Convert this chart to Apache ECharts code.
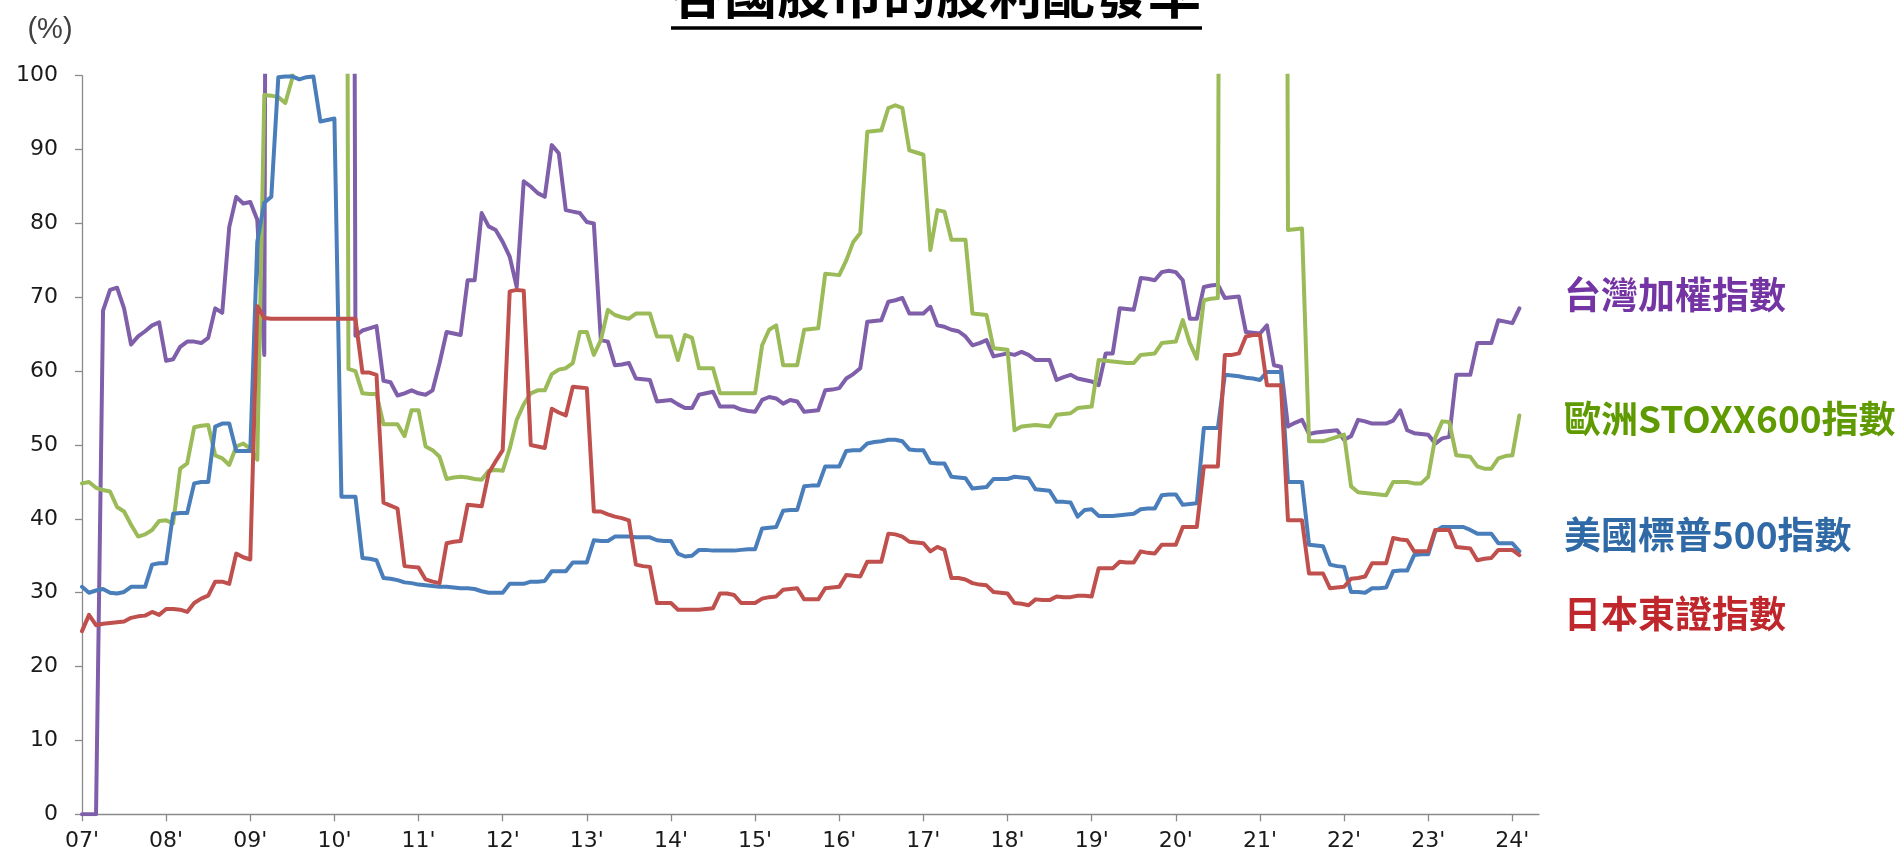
<!DOCTYPE html>
<html>
<head>
<meta charset="utf-8">
<title>各國股市的股利配發率</title>
<script src="https://cdn.jsdelivr.net/npm/echarts@6/dist/echarts.min.js"></script>
<style>
  html, body { margin: 0; padding: 0; background: #ffffff; }
  #chart { width: 1904px; height: 857px; }
</style>
</head>
<body>
<div id="chart"></div>
<script>
// Year tick labels (one tick every 12 months, starting Jan 2007)
const yearLabels = ["07'", "08'", "09'", "10'", "11'", "12'", "13'", "14'", "15'",
                    "16'", "17'", "18'", "19'", "20'", "21'", "22'", "23'", "24'"];

const seriesNames = ['台灣加權指數', '歐洲STOXX600指數', '美國標普500指數', '日本東證指數'];
const lineColors  = ['#7F5FAA', '#9BBB59', '#4A7EBB', '#C0504D'];
const labelColors = ['#7434A4', '#5F9A00', '#2F69A6', '#C0272D'];

// Monthly dividend payout ratios (%), Jan 2007 onward, one row per year.
// Values above 100 run off the top of the plot.
const twn = [
  0, 0, 0, 68.2, 71.0, 71.3, 68.5, 63.6, 64.7, 65.4, 66.2, 66.6,
  61.4, 61.6, 63.3, 64.0, 64.0, 63.8, 64.5, 68.5, 67.9, 79.5, 83.6, 82.7,
  82.9, 80.5, 62.2, 400, 400, 400, 400, 400, 400, 400, 400, 400,
  400, 400, 400, 64.8, 65.5, 65.8, 66.1, 58.7, 58.5, 56.7, 57.0, 57.4,
  57.0, 56.8, 57.4, 61.1, 65.3, 65.1, 64.9, 72.3, 72.3, 81.4, 79.6, 79.1,
  77.5, 75.5, 71.4, 85.7, 85.0, 84.1, 83.6, 90.6, 89.5, 81.8, 81.6, 81.4,
  80.2, 80.0, 64.2, 64.0, 60.8, 60.9, 61.1, 59.0, 58.9, 58.8, 55.9, 56.0,
  56.1, 55.5, 55.0, 55.0, 56.8, 57.0, 57.2, 55.2, 55.2, 55.2, 54.8, 54.6,
  54.5, 56.1, 56.5, 56.3, 55.6, 56.1, 55.9, 54.5, 54.6, 54.7, 57.4, 57.5,
  57.7, 59.0, 59.6, 60.4, 66.7, 66.8, 66.9, 69.4, 69.6, 69.9, 67.8, 67.8,
  67.8, 68.7, 66.2, 66.0, 65.6, 65.4, 64.7, 63.5, 63.8, 64.2, 62.0, 62.2,
  62.4, 62.2, 62.6, 62.2, 61.5, 61.5, 61.5, 58.8, 59.2, 59.5, 59.0, 58.8,
  58.6, 58.1, 62.4, 62.4, 68.5, 68.4, 68.3, 72.6, 72.5, 72.3, 73.4, 73.6,
  73.4, 72.3, 67.1, 67.1, 71.4, 71.6, 71.7, 69.9, 70.0, 70.1, 65.3, 65.2,
  65.1, 66.2, 60.8, 60.6, 52.5, 53.0, 53.4, 51.5, 51.7, 51.8, 51.9, 52.0,
  50.7, 51.2, 53.4, 53.2, 52.9, 52.9, 52.9, 53.3, 54.7, 52.0, 51.6, 51.5,
  51.4, 50.2, 50.9, 51.1, 59.5, 59.5, 59.5, 63.8, 63.8, 63.8, 66.9, 66.7,
  66.5, 68.5
];

const eur = [
  44.8, 45.0, 44.2, 43.9, 43.7, 41.6, 41.0, 39.2, 37.6, 37.9, 38.5, 39.7,
  39.8, 39.4, 46.8, 47.5, 52.4, 52.6, 52.7, 48.6, 48.2, 47.3, 49.8, 50.2,
  49.5, 48.0, 97.4, 97.3, 97.1, 96.3, 99.7, 400, 400, 400, 400, 400,
  400, 400, 60.3, 60.0, 57.0, 56.9, 56.9, 52.8, 52.8, 52.8, 51.2, 54.7,
  54.7, 49.8, 49.3, 48.4, 45.4, 45.6, 45.7, 45.6, 45.4, 45.3, 46.5, 46.6,
  46.5, 49.5, 53.4, 55.5, 57.0, 57.4, 57.4, 59.6, 60.2, 60.4, 61.1, 65.3,
  65.3, 62.2, 64.2, 68.3, 67.6, 67.3, 67.1, 67.8, 67.8, 67.8, 64.7, 64.7,
  64.7, 61.5, 64.9, 64.5, 60.4, 60.4, 60.4, 57.0, 57.0, 57.0, 57.0, 57.0,
  57.0, 63.5, 65.6, 66.2, 60.8, 60.8, 60.8, 65.6, 65.7, 65.8, 73.2, 73.1,
  73.0, 75.0, 77.5, 78.7, 92.4, 92.5, 92.6, 95.6, 96.0, 95.6, 89.9, 89.6,
  89.3, 76.4, 81.8, 81.6, 77.8, 77.8, 77.8, 67.8, 67.7, 67.6, 63.1, 63.0,
  62.9, 52.0, 52.5, 52.6, 52.7, 52.6, 52.5, 54.1, 54.2, 54.3, 55.0, 55.1,
  55.2, 61.5, 61.4, 61.3, 61.2, 61.1, 61.1, 62.2, 62.3, 62.4, 63.8, 63.9,
  64.0, 66.9, 63.8, 61.7, 69.6, 69.8, 69.9, 400, 400, 400, 400, 400,
  400, 400, 400, 400, 79.1, 79.2, 79.3, 50.5, 50.5, 50.5, 50.8, 51.1,
  51.4, 44.4, 43.6, 43.5, 43.4, 43.3, 43.2, 45.0, 45.0, 45.0, 44.8, 44.8,
  45.7, 51.0, 53.2, 53.1, 48.6, 48.5, 48.4, 47.1, 46.8, 46.8, 48.2, 48.5,
  48.6, 54.0
];

const usa = [
  30.8, 30.0, 30.3, 30.5, 30.0, 29.9, 30.1, 30.8, 30.8, 30.8, 33.8, 34.0,
  34.0, 40.7, 40.8, 40.8, 44.8, 45.0, 45.0, 52.5, 52.9, 52.9, 49.2, 49.2,
  49.2, 77.5, 82.8, 83.6, 99.8, 99.9, 99.9, 99.5, 99.8, 99.9, 93.8, 94.0,
  94.2, 43.0, 43.0, 43.0, 34.7, 34.6, 34.4, 32.0, 31.9, 31.7, 31.4, 31.3,
  31.1, 31.0, 30.9, 30.8, 30.8, 30.7, 30.6, 30.6, 30.5, 30.2, 30.0, 30.0,
  30.0, 31.2, 31.2, 31.2, 31.5, 31.5, 31.6, 32.9, 32.9, 32.9, 34.1, 34.1,
  34.1, 37.1, 37.0, 37.0, 37.6, 37.6, 37.6, 37.5, 37.5, 37.5, 37.1, 37.0,
  37.0, 35.3, 34.9, 35.0, 35.8, 35.8, 35.7, 35.7, 35.7, 35.7, 35.8, 35.9,
  35.9, 38.7, 38.8, 38.9, 41.1, 41.2, 41.2, 44.4, 44.5, 44.5, 47.1, 47.1,
  47.1, 49.2, 49.3, 49.3, 50.2, 50.4, 50.5, 50.7, 50.7, 50.5, 49.4, 49.3,
  49.3, 47.6, 47.5, 47.5, 45.7, 45.6, 45.5, 44.1, 44.2, 44.3, 45.4, 45.4,
  45.4, 45.7, 45.6, 45.5, 44.0, 43.9, 43.8, 42.3, 42.3, 42.2, 40.3, 41.2,
  41.3, 40.4, 40.4, 40.4, 40.5, 40.6, 40.7, 41.3, 41.4, 41.4, 43.2, 43.3,
  43.3, 41.9, 42.0, 42.1, 52.3, 52.3, 52.3, 59.5, 59.4, 59.3, 59.1, 59.0,
  58.8, 59.9, 59.9, 59.9, 45.0, 45.0, 45.0, 36.5, 36.4, 36.3, 33.8, 33.6,
  33.5, 30.1, 30.1, 30.0, 30.6, 30.6, 30.7, 32.9, 33.0, 33.0, 35.1, 35.2,
  35.2, 38.3, 38.9, 38.9, 38.9, 38.9, 38.5, 38.0, 38.0, 38.0, 36.7, 36.7,
  36.7, 35.6
];

const jpn = [
  24.8, 27.0, 25.6, 25.8, 25.9, 26.0, 26.1, 26.6, 26.8, 26.9, 27.4, 27.0,
  27.8, 27.8, 27.7, 27.4, 28.6, 29.2, 29.6, 31.5, 31.5, 31.2, 35.3, 34.8,
  34.5, 68.8, 67.2, 67.1, 67.1, 67.1, 67.1, 67.1, 67.1, 67.1, 67.1, 67.1,
  67.1, 67.1, 67.1, 67.1, 59.8, 59.8, 59.5, 42.2, 41.8, 41.4, 33.6, 33.5,
  33.4, 31.8, 31.5, 31.3, 36.7, 36.9, 37.0, 41.9, 41.8, 41.7, 46.2, 47.8,
  49.3, 70.8, 71.0, 70.9, 50.0, 49.8, 49.6, 54.9, 54.4, 54.0, 57.9, 57.8,
  57.7, 41.0, 41.0, 40.6, 40.3, 40.1, 39.8, 33.8, 33.6, 33.5, 28.6, 28.6,
  28.6, 27.7, 27.7, 27.7, 27.7, 27.8, 27.9, 29.9, 29.9, 29.7, 28.6, 28.6,
  28.6, 29.2, 29.4, 29.5, 30.4, 30.5, 30.6, 29.1, 29.1, 29.1, 30.6, 30.7,
  30.8, 32.4, 32.3, 32.2, 34.2, 34.2, 34.2, 38.0, 37.9, 37.6, 36.9, 36.8,
  36.7, 35.6, 36.2, 35.8, 32.0, 32.0, 31.8, 31.3, 31.1, 31.0, 30.1, 30.0,
  29.9, 28.6, 28.5, 28.3, 29.1, 29.0, 29.0, 29.5, 29.4, 29.4, 29.6, 29.6,
  29.5, 33.3, 33.3, 33.3, 34.2, 34.1, 34.1, 35.6, 35.4, 35.3, 36.5, 36.5,
  36.5, 38.9, 38.9, 38.9, 47.1, 47.1, 47.1, 62.2, 62.2, 62.4, 64.7, 64.9,
  64.9, 58.1, 58.1, 58.1, 39.8, 39.8, 39.8, 32.6, 32.6, 32.6, 30.6, 30.7,
  30.8, 31.9, 32.0, 32.2, 34.0, 34.0, 34.0, 37.4, 37.2, 37.1, 35.6, 35.6,
  35.6, 38.5, 38.5, 38.5, 36.2, 36.1, 36.0, 34.4, 34.6, 34.7, 35.8, 35.8,
  35.8, 35.1
];

const allSeries = [twn, eur, usa, jpn];

// x is the month index since Jan 2007; one labelled tick per year
const yearTicks = yearLabels.map((_, i) => i * 12);
const axisGray = '#8a8a8a';
const numFont = 'DejaVu Sans';
const cjkFont = '"Noto Sans CJK TC", "Noto Sans CJK SC", sans-serif';

const chart = echarts.init(document.getElementById('chart'), null, { renderer: 'canvas' });

const option = {
  backgroundColor: '#ffffff',
  animation: false,
  title: {
    text: '各國股市的股利配發率',
    left: 671,
    top: -33,
    padding: 0,
    textStyle: { fontSize: 53, fontWeight: 'bold', color: '#000000', fontFamily: cjkFont }
  },
  grid: {
    left: 82, right: 365, top: 75.7, bottom: 42.7,
    containLabel: false,
    outerBoundsMode: 'none'
  },
  xAxis: {
    type: 'value',
    min: 0,
    max: 207.8,
    interval: 12,
    splitLine: { show: false },
    axisLine: { show: true, lineStyle: { color: axisGray, width: 1.3 } },
    axisTick: {
      show: true, length: 7, customValues: yearTicks,
      lineStyle: { color: axisGray, width: 1.3 }
    },
    axisLabel: {
      customValues: yearTicks,
      formatter: v => yearLabels[Math.round(v / 12)] || '',
      fontSize: 22, color: '#1a1a1a', fontFamily: numFont, margin: 16
    }
  },
  yAxis: {
    type: 'value',
    min: 0,
    max: 100,
    interval: 10,
    splitLine: { show: false },
    axisLine: { show: true, lineStyle: { color: axisGray, width: 1.3 } },
    axisTick: { show: true, length: 7, lineStyle: { color: axisGray, width: 1.3 } },
    axisLabel: { fontSize: 22, color: '#1a1a1a', fontFamily: numFont, margin: 24 }
  },
  series: allSeries.map((vals, k) => ({
    name: seriesNames[k],
    type: 'line',
    data: vals.map((v, i) => [i, v]),
    symbol: 'none',
    showSymbol: false,
    clip: true,
    z: 2 + k,
    lineStyle: { color: lineColors[k], width: 4, join: 'round', cap: 'round' },
    itemStyle: { color: lineColors[k] }
  })),
  graphic: [
    // underline beneath the title
    {
      type: 'line', silent: true,
      shape: { x1: 671, y1: 28, x2: 1202, y2: 28 },
      style: { stroke: '#000000', lineWidth: 3.5 }
    },
    // unit caption above the value axis
    {
      type: 'text', silent: true, x: 50, y: 30,
      style: {
        text: '(%)', fill: '#404040', align: 'center', verticalAlign: 'middle',
        font: '29px "Liberation Sans", sans-serif'
      }
    },
    // series names beside the plot
    ...seriesNames.map((name, k) => ({
      type: 'text', silent: true, x: 1564, y: [295, 419, 535, 614][k],
      style: {
        text: name, fill: labelColors[k], align: 'left', verticalAlign: 'middle',
        font: 'bold 37px ' + cjkFont
      }
    }))
  ]
};

chart.setOption(option);
</script>
</body>
</html>
